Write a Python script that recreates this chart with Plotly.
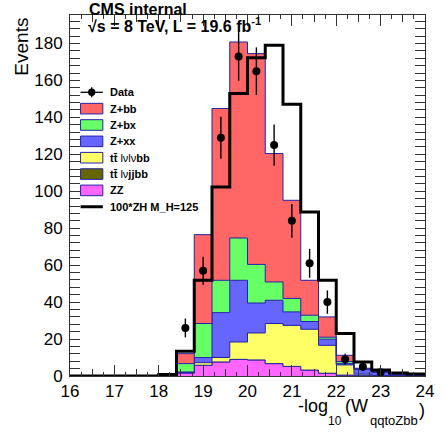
import numpy as np
import plotly.graph_objects as go

# ---------------- data ----------------
bin_edges = [16.0, 16.4, 16.8, 17.2, 17.6, 18.0, 18.4, 18.8, 19.2, 19.6, 20.0,
             20.4, 20.8, 21.2, 21.6, 22.0, 22.4, 22.8, 23.2, 23.6, 24.0]

zz      = [0, 0, 0, 0, 0, 0.1, 1.6, 5.8, 7.6, 9.0, 8.7, 6.7, 5.2, 3.2, 1.5, 0.5, 0.2, 0.1, 0.05, 0]
tt_lvjj = [0, 0, 0, 0, 0, 0, 0, 0, 0, 0, 0, 0, 0, 0, 0, 0, 0, 0, 0, 0]
tt_lvlv = [0, 0, 0, 0, 0, 0, 0.3, 1.4, 2.4, 9.4, 14.6, 21.7, 22.2, 22.1, 15.1, 5.5, 0.8, 0.2, 0.05, 0.05]
z_xx    = [0, 0, 0, 0, 0, 0.05, 0.3, 2.8, 24.3, 33.4, 16.2, 12.6, 7.3, 4.2, 3.3, 0.7, 2.6, 1.7, 0.4, 0.25]
z_bx    = [0, 0, 0, 0, 0, 0.05, 4.5, 18.4, 17.5, 22.9, 20.9, 9.9, 7.3, 3.4, 1.1, 1.1, 0.2, 0.2, 0.05, 0]
z_bb    = [0, 0, 0, 0, 0, 0.1, 5.4, 48.1, 93.0, 106.1, 114.1, 69.5, 53.1, 18.9, 11.0, 3.4, 0.4, 0.2, 0.05, 0.05]
signal  = [0, 0, 0, 0, 0, 0.8, 13.4, 51.8, 102.3, 152.9, 172.2, 179.0, 147.1, 88.8, 51.8, 23.0, 7.6, 3.3, 1.6, 1.1]

data_x = [18.6, 19.0, 19.4, 19.8, 20.2, 20.6, 21.0, 21.4, 21.8, 22.2, 22.6, 23.0]
data_y = [26, 57, 129, 173, 165, 125, 84, 61, 40, 9, 5, 2]

x_ticks = [16, 17, 18, 19, 20, 21, 22, 23, 24]
y_ticks = [0, 20, 40, 60, 80, 100, 120, 140, 160, 180]

# ---------------- styling ----------------
stack_names  = ["ZZ", "tt lvjjbb", "tt lvlvbb", "Z+xx", "Z+bx", "Z+bb"]
stack_series = [zz, tt_lvjj, tt_lvlv, z_xx, z_bx, z_bb]
stack_colors = ["#ff66ff", "#666600", "#ffff66", "#6666ff", "#66ff66", "#ff6666"]
EDGE = "#2222aa"
FONT = "Liberation Sans, Arial, Helvetica, sans-serif"

L, R, T, B = 70, 430, 15, 376
W, H = 446, 437


def px(x):
    return (x - L) / (R - L)


def py(y):
    return (B - y) / (B - T)


fig = go.Figure()

cum = np.zeros(len(zz))
for i, (name, vals, col) in enumerate(zip(stack_names, stack_series, stack_colors)):
    cum = cum + np.array(vals, dtype=float)
    yv = list(cum) + [cum[-1]]
    fig.add_trace(go.Scatter(
        x=bin_edges, y=yv, mode="lines", line=dict(shape="hv", color=EDGE, width=1),
        fill="tozeroy" if i == 0 else "tonexty", fillcolor=col,
        name=name, showlegend=False, hoverinfo="skip"))

fig.add_trace(go.Scatter(
    x=bin_edges, y=list(signal) + [signal[-1]], mode="lines",
    line=dict(shape="hv", color="black", width=3),
    showlegend=False, hoverinfo="skip"))

fig.add_trace(go.Scatter(
    x=data_x, y=data_y, mode="markers",
    marker=dict(color="black", size=8),
    error_y=dict(type="data", array=list(np.sqrt(data_y)), visible=True,
                 thickness=1.4, width=0, color="black"),
    showlegend=False, hoverinfo="skip"))

# helper trace for the medium x ticks axis
fig.add_trace(go.Scatter(x=[16], y=[0], xaxis="x2", yaxis="y", mode="markers",
                         marker=dict(opacity=0), showlegend=False, hoverinfo="skip"))

axcol = "#333333"
fig.update_layout(
    width=W, height=H, autosize=False,
    margin=dict(l=L, r=W - R, t=T, b=H - B, pad=0),
    paper_bgcolor="white", plot_bgcolor="white",
    font=dict(family=FONT, color="black"),
    xaxis=dict(range=[16, 24], tickvals=x_ticks, ticktext=[str(v) for v in x_ticks],
               ticks="inside", ticklen=11, tickwidth=1, tickcolor=axcol,
               minor=dict(dtick=0.25, tick0=16, ticks="inside", ticklen=4, tickcolor=axcol, tickwidth=1),
               showline=True, linecolor=axcol, linewidth=1, mirror="allticks",
               showgrid=False, zeroline=False, tickfont=dict(size=17, family=FONT, color="black")),
    xaxis2=dict(range=[16, 24], overlaying="x", anchor="y", side="bottom", dtick=0.5, tick0=16,
                ticks="inside", ticklen=7, tickwidth=1, tickcolor=axcol, showticklabels=False,
                showline=False, mirror="allticks", showgrid=False, zeroline=False),
    yaxis=dict(range=[0, 195.4], tickvals=y_ticks, ticktext=[str(v) for v in y_ticks],
               ticks="inside", ticklen=10, tickwidth=1, tickcolor=axcol,
               minor=dict(dtick=4, tick0=0, ticks="inside", ticklen=5, tickcolor=axcol, tickwidth=1),
               showline=True, linecolor=axcol, linewidth=1, mirror="allticks",
               showgrid=False, zeroline=False, ticklabelstandoff=3,
               tickfont=dict(size=17, family=FONT, color="black")),
)

ann = []
shapes = []


def text_at(txt, x, baseline, size, xanchor="left", bold=False):
    bottom = baseline + 0.212 * size
    ann.append(dict(text=("<b>%s</b>" % txt) if bold else txt, x=px(x), y=py(bottom),
                    xref="paper", yref="paper", xanchor=xanchor, yanchor="bottom",
                    showarrow=False, borderpad=0,
                    font=dict(size=size, family=FONT, color="black")))


# header texts
text_at("CMS internal", 88, 15.5, 16, bold=True)
text_at("√s = 8 TeV, L = 19.6 fb<sup>-1</sup>", 87, 32.3, 16, bold=True)

# y-axis title
ann.append(dict(text="Events", x=px(21), y=py(17), xref="paper", yref="paper",
                xanchor="center", yanchor="top", textangle=-90, showarrow=False, borderpad=0,
                font=dict(size=19, family=FONT, color="black")))

# x-axis title, pieces for ROOT-like subscripts
text_at("-log", 300, 413.3, 18)
text_at("10", 331, 426.7, 12)
text_at("(W", 347.5, 413.3, 18)
text_at("qqtoZbb", 373.5, 426.7, 13)
text_at(")", 423, 417, 18)

# legend (drawn manually, ROOT style)
row0, dy = 92.3, 16.35
bx0, bx1, bh = 80.7, 103.3, 10.6
legend_labels = ["Data", "Z+bb", "Z+bx", "Z+xx",
                 "<b>tt̄ </b>lνlν<b>bb</b>", "<b>tt̄ </b>lν<b>jjbb</b>", "ZZ", "100*ZH M_H=125"]
legend_fill = [None, "#ff6666", "#66ff66", "#6666ff", "#ffff66", "#666600", "#ff66ff", None]
for i, (lab, col) in enumerate(zip(legend_labels, legend_fill)):
    yc = row0 + i * dy
    if col is not None:
        shapes.append(dict(type="rect", xref="paper", yref="paper",
                           x0=px(bx0), x1=px(bx1), y0=py(yc + bh / 2), y1=py(yc - bh / 2),
                           fillcolor=col, line=dict(color=EDGE, width=1)))
    elif i == 0:
        xm = (bx0 + bx1) / 2
        shapes.append(dict(type="line", xref="paper", yref="paper", x0=px(bx0), x1=px(bx1),
                           y0=py(yc), y1=py(yc), line=dict(color="black", width=1.3)))
        shapes.append(dict(type="line", xref="paper", yref="paper", x0=px(xm), x1=px(xm),
                           y0=py(yc - 5), y1=py(yc + 5), line=dict(color="black", width=1.3)))
        shapes.append(dict(type="circle", xref="paper", yref="paper",
                           x0=px(xm - 3.7), x1=px(xm + 3.7), y0=py(yc + 3.7), y1=py(yc - 3.7),
                           fillcolor="black", line=dict(color="black", width=0)))
    else:
        shapes.append(dict(type="line", xref="paper", yref="paper", x0=px(bx0), x1=px(bx1),
                           y0=py(yc), y1=py(yc), line=dict(color="black", width=3)))
    txt = lab if "<b>" in lab else "<b>%s</b>" % lab
    ann.append(dict(text=txt, x=px(109.3), y=py(yc), xref="paper", yref="paper",
                    xanchor="left", yanchor="middle", showarrow=False, borderpad=0,
                    font=dict(size=11, family=FONT, color="black")))

fig.update_layout(annotations=ann, shapes=shapes)
fig.write_html("out.html", config={"displayModeBar": False, "staticPlot": True},
               post_script="document.body.style.margin='0';document.body.style.overflow='hidden';")
